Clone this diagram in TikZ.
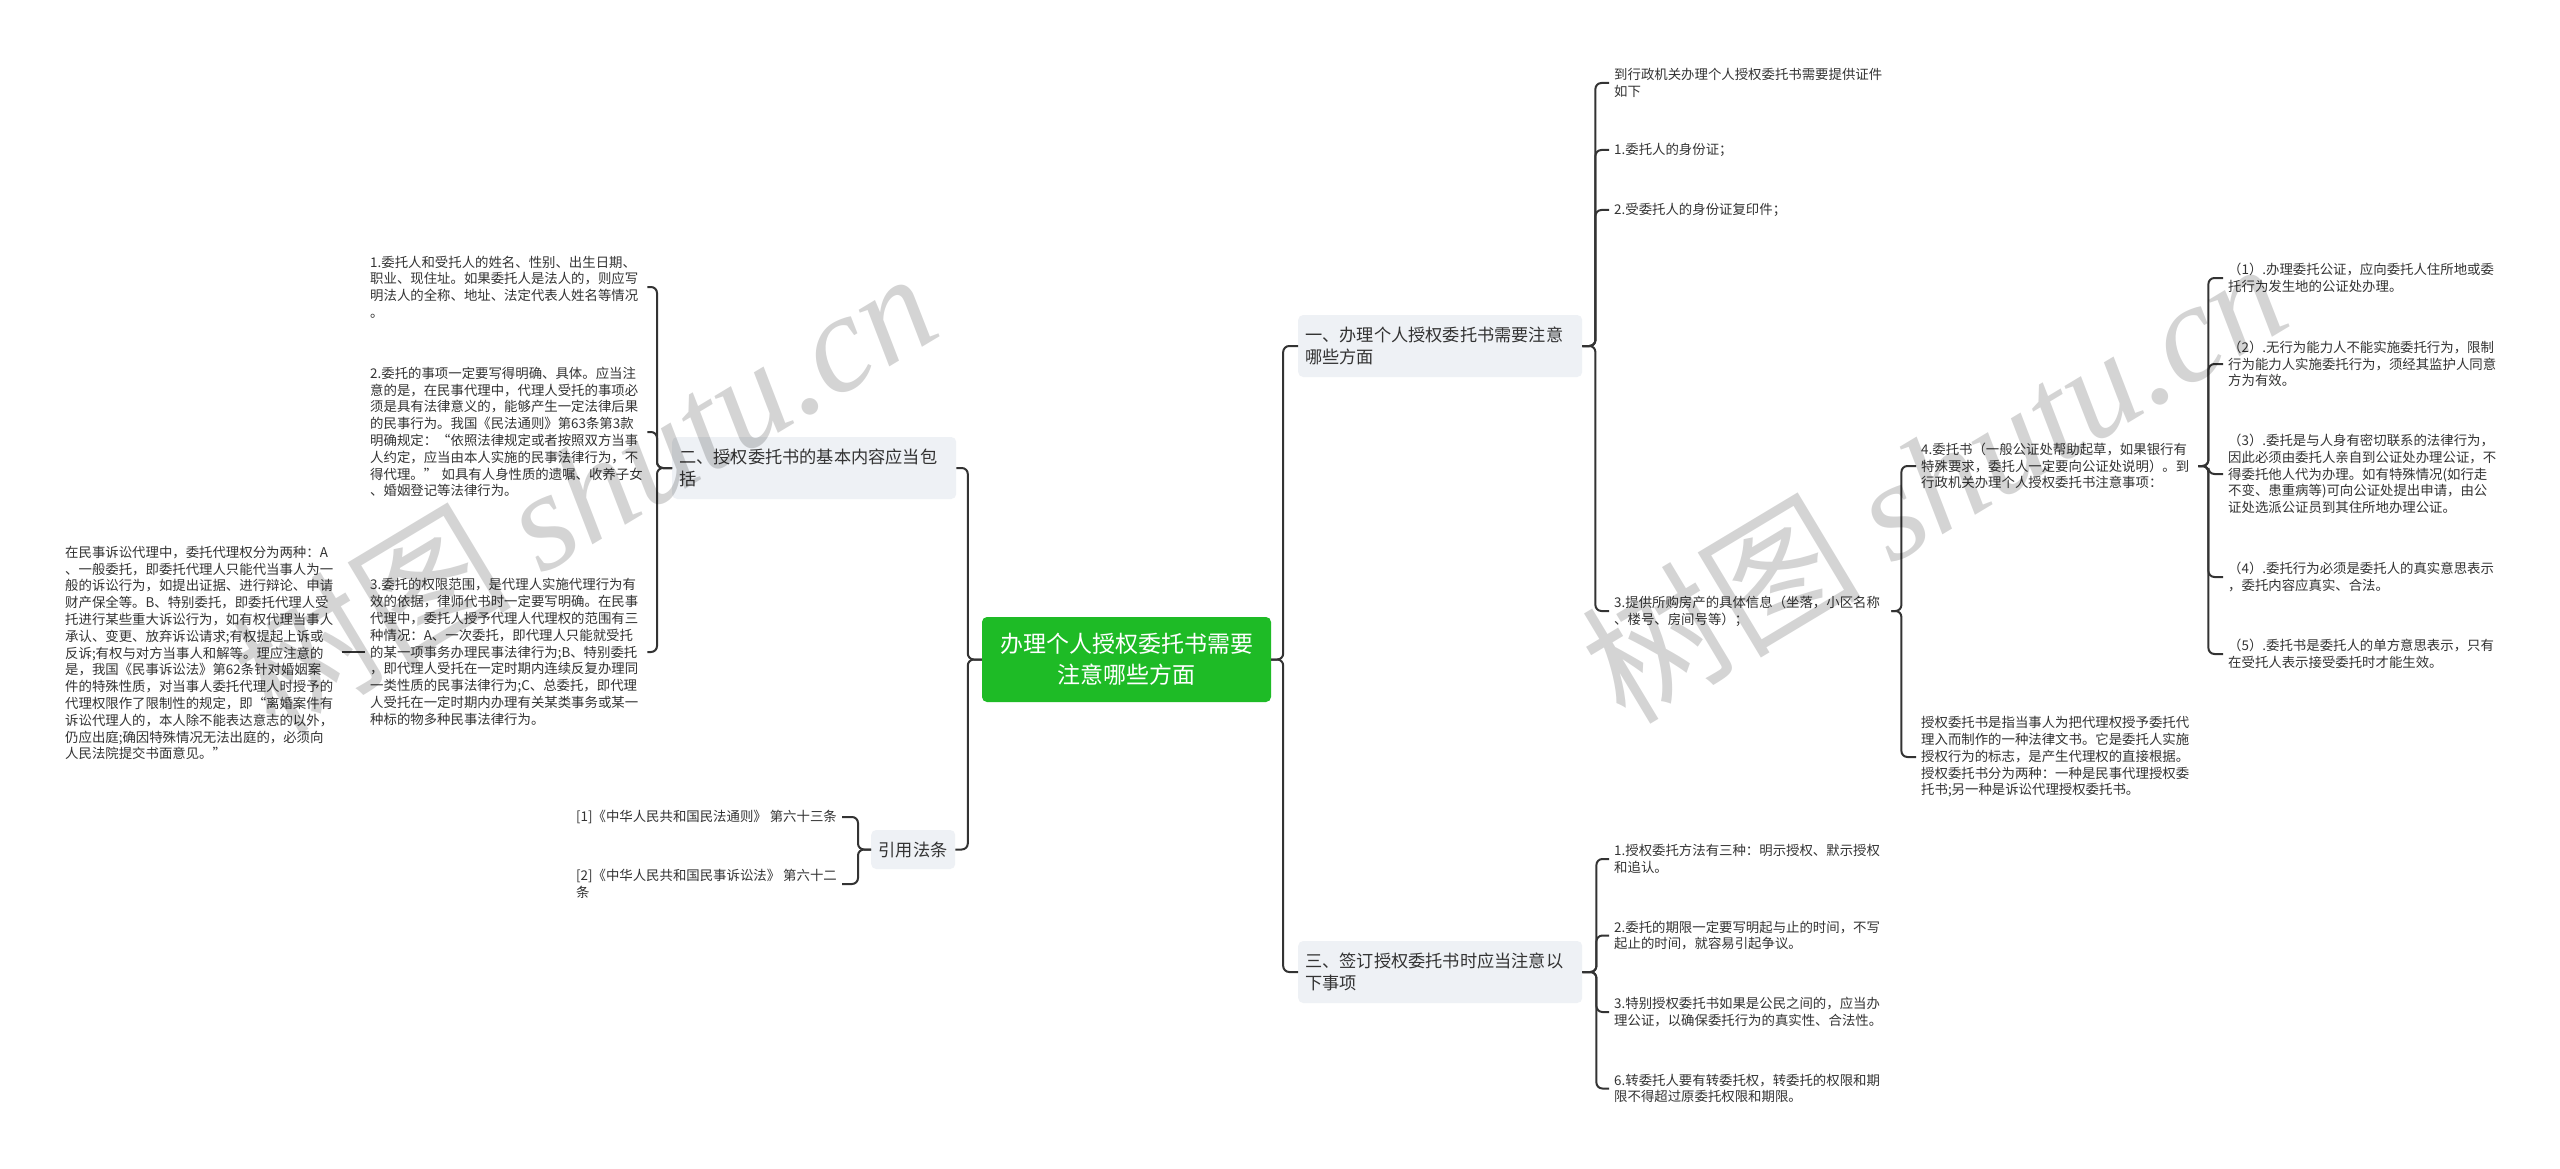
\documentclass[tikz,border=0pt]{standalone}
\usepackage{fontspec}
\setmainfont{Noto Sans CJK SC}
\newfontfamily\wmfont{Liberation Serif}
\usetikzlibrary{positioning}

\definecolor{topicgreen}{HTML}{1EBB26}
\definecolor{branchgrey}{HTML}{EEF1F5}
\definecolor{linegrey}{HTML}{333333}
\definecolor{textgrey}{HTML}{333333}

\begin{document}
\begin{tikzpicture}[
    x=1pt, y=-1pt,
    every node/.style={text=textgrey},
    centre/.style={
        fill=topicgreen,
        rounded corners=5pt,
        text=white,
        align=center,
        minimum width=289pt,
        minimum height=85pt,
        font=\fontsize{23}{31}\selectfont
    },
    branch/.style={
        fill=branchgrey,
        rounded corners=5pt,
        align=left,
        text width=270pt,
        inner xsep=7pt,
        minimum height=62pt,
        font=\fontsize{17.2}{22}\selectfont
    },
    leaf/.style={
        align=left,
        text width=272pt,
        inner sep=5pt,
        font=\fontsize{13.4}{16.8}\selectfont
    },
    link/.style={
        draw=linegrey,
        line width=2pt,
        rounded corners=6pt
    },
    watermark/.style={
        text=black,
        text opacity=0.17,
        font=\fontsize{140}{140}\selectfont
    }
]

\fill[white] (0,0) rectangle (2560,1169);
\useasboundingbox (0,0) rectangle (2560,1169);

% --- Tema centrale ---
\node[centre] (centre) at (1126.5,659.5) {办理个人授权委托书需要\\注意哪些方面};

% --- Ramo sinistro: contenuto di base ---
\node[branch, anchor=west] (two) at (672,468) {二、授权委托书的基本内容应当包\\括};

\node[leaf, anchor=west] (l1) at (365,287) {1.委托人和受托人的姓名、性别、出生日期、\\职业、现住址。如果委托人是法人的，则应写\\明法人的全称、地址、法定代表人姓名等情况\\。};
\node[leaf, anchor=west] (l2) at (365,432) {2.委托的事项一定要写得明确、具体。应当注\\意的是，在民事代理中，代理人受托的事项必\\须是具有法律意义的，能够产生一定法律后果\\的民事行为。我国《民法通则》第63条第3款\\明确规定：“依照法律规定或者按照双方当事\\人约定，应当由本人实施的民事法律行为，不\\得代理。”~如具有人身性质的遗嘱、收养子女\\、婚姻登记等法律行为。};
\node[leaf, anchor=west] (l3) at (365,652) {3.委托的权限范围，是代理人实施代理行为有\\效的依据，律师代书时一定要写明确。在民事\\代理中，委托人授予代理人代理权的范围有三\\种情况：A、一次委托，即代理人只能就受托\\的某一项事务办理民事法律行为;B、特别委托\\，即代理人受托在一定时期内连续反复办理同\\一类性质的民事法律行为;C、总委托，即代理\\人受托在一定时期内办理有关某类事务或某一\\种标的物多种民事法律行为。};
\node[leaf, anchor=west] (fl) at (60,653) {在民事诉讼代理中，委托代理权分为两种：A\\、一般委托，即委托代理人只能代当事人为一\\般的诉讼行为，如提出证据、进行辩论、申请\\财产保全等。B、特别委托，即委托代理人受\\托进行某些重大诉讼行为，如有权代理当事人\\承认、变更、放弃诉讼请求;有权提起上诉或\\反诉;有权与对方当事人和解等。理应注意的\\是，我国《民事诉讼法》第62条针对婚姻案\\件的特殊性质，对当事人委托代理人时授予的\\代理权限作了限制性的规定，即“离婚案件有\\诉讼代理人的，本人除不能表达意志的以外，\\仍应出庭;确因特殊情况无法出庭的，必须向\\人民法院提交书面意见。”};

% --- Ramo sinistro: norme citate ---
\node[branch, anchor=west, text width=69pt, inner xsep=7.5pt, minimum height=39pt] (cite) at (871,849.5) {引用法条};
\node[leaf, anchor=east, text width=] (c1) at (842,817) {[1]《中华人民共和国民法通则》 第六十三条};
\node[leaf, anchor=east, text width=] (c2) at (842,884) {[2]《中华人民共和国民事诉讼法》 第六十二\\条};

% --- Ramo destro: cosa notare ---
\node[branch, anchor=west] (one) at (1298,346) {一、办理个人授权委托书需要注意\\哪些方面};

\node[leaf, anchor=west] (r1) at (1609,83) {到行政机关办理个人授权委托书需要提供证件\\如下};
\node[leaf, anchor=west] (r2) at (1609,150) {1.委托人的身份证；};
\node[leaf, anchor=west] (r3) at (1609,210) {2.受委托人的身份证复印件；};
\node[leaf, anchor=west] (r4) at (1609,611) {3.提供所购房产的具体信息（坐落，小区名称\\、楼号、房间号等）；};

\node[leaf, anchor=west] (r4a) at (1916,466) {4.委托书（一般公证处帮助起草，如果银行有\\特殊要求，委托人一定要向公证处说明）。到\\行政机关办理个人授权委托书注意事项：};
\node[leaf, anchor=west] (r4b) at (1916,757) {授权委托书是指当事人为把代理权授予委托代\\理入而制作的一种法律文书。它是委托人实施\\授权行为的标志，是产生代理权的直接根据。\\授权委托书分为两种：一种是民事代理授权委\\托书;另一种是诉讼代理授权委托书。};

\node[leaf, anchor=west] (s1) at (2223,278) {（1）.办理委托公证，应向委托人住所地或委\\托行为发生地的公证处办理。};
\node[leaf, anchor=west] (s2) at (2223,364) {（2）.无行为能力人不能实施委托行为，限制\\行为能力人实施委托行为，须经其监护人同意\\方为有效。};
\node[leaf, anchor=west] (s3) at (2223,474) {（3）.委托是与人身有密切联系的法律行为，\\因此必须由委托人亲自到公证处办理公证，不\\得委托他人代为办理。如有特殊情况(如行走\\不变、患重病等)可向公证处提出申请，由公\\证处选派公证员到其住所地办理公证。};
\node[leaf, anchor=west] (s4) at (2223,577) {（4）.委托行为必须是委托人的真实意思表示\\，委托内容应真实、合法。};
\node[leaf, anchor=west] (s5) at (2223,654) {（5）.委托书是委托人的单方意思表示，只有\\在受托人表示接受委托时才能生效。};

% --- Ramo destro: firma ---
\node[branch, anchor=west] (three) at (1298,972) {三、签订授权委托书时应当注意以\\下事项};

\node[leaf, anchor=west] (t1) at (1609,859) {1.授权委托方法有三种：明示授权、默示授权\\和追认。};
\node[leaf, anchor=west] (t2) at (1609,935.5) {2.委托的期限一定要写明起与止的时间，不写\\起止的时间，就容易引起争议。};
\node[leaf, anchor=west] (t3) at (1609,1012) {3.特别授权委托书如果是公民之间的，应当办\\理公证，以确保委托行为的真实性、合法性。};
\node[leaf, anchor=west] (t4) at (1609,1088.5) {6.转委托人要有转委托权，转委托的权限和期\\限不得超过原委托权限和期限。};

% --- Collegamenti ---
\draw[link] (centre.west) -- ++(-14,0) |- (two.east);
\draw[link] (centre.west) -- ++(-14,0) |- (cite.east);
\draw[link] (centre.east) -- ++(12,0) |- (one.west);
\draw[link] (centre.east) -- ++(12,0) |- (three.west);

\foreach \leafname in {l1,l2,l3}
    \draw[link] (two.west) -- ++(-15,0) |- (\leafname.east);
\draw[link] (l3.west) -- (l3.west -| fl.east);

\foreach \leafname in {c1,c2}
    \draw[link] (cite.west) -- ++(-13,0) |- (\leafname.east);

\foreach \leafname in {r1,r2,r3,r4}
    \draw[link] (one.east) -- ++(13,0) |- (\leafname.west);
\foreach \leafname in {r4a,r4b}
    \draw[link] (r4.east) -- ++(10,0) |- (\leafname.west);
\foreach \leafname in {s1,s2,s3,s4,s5}
    \draw[link] (r4a.east) -- ++(10,0) |- (\leafname.west);

\foreach \leafname in {t1,t2,t3,t4}
    \draw[link] (three.east) -- ++(14,0) |- (\leafname.west);

% --- Filigrana ---
\node[watermark, rotate=31, anchor=base west] (wmleft) at (272,738) {树图 {\wmfont\itshape shutu.cn}};
\node[watermark, rotate=31, anchor=base west] (wmright) at (1622,728) {树图 {\wmfont\itshape shutu.cn}};

\end{tikzpicture}
\end{document}
